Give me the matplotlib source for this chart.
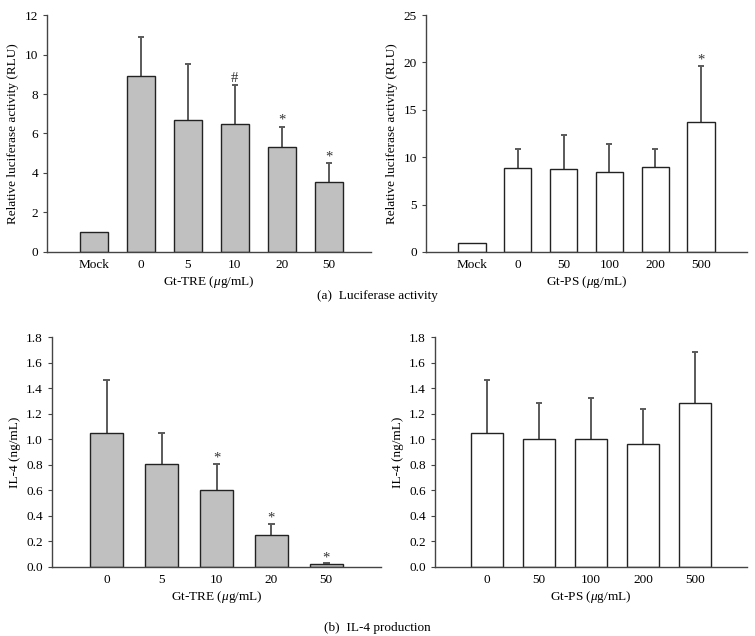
import matplotlib
matplotlib.use("Agg")
import matplotlib.pyplot as plt

plt.rcParams['font.family'] = ['Liberation Serif', 'DejaVu Serif']
plt.rcParams['mathtext.fontset'] = 'custom'
plt.rcParams['mathtext.rm'] = 'Liberation Serif'
plt.rcParams['mathtext.it'] = 'Liberation Serif:italic'

# Data
tre_luc_cats = ["Mock", "0", "5", "10", "20", "50"]
tre_luc_vals = [1.0, 8.9, 6.7, 6.5, 5.3, 3.55]
tre_luc_err = [0.0, 2.0, 2.8, 1.95, 1.05, 0.95]
tre_luc_marks = ["", "", "", "#", "*", "*"]

ps_luc_cats = ["Mock", "0", "50", "100", "200", "500"]
ps_luc_vals = [1.0, 8.9, 8.8, 8.4, 9.0, 13.7]
ps_luc_err = [0.0, 2.0, 3.5, 2.95, 1.9, 5.9]
ps_luc_marks = ["", "", "", "", "", "*"]

tre_il4_cats = ["0", "5", "10", "20", "50"]
tre_il4_vals = [1.05, 0.81, 0.60, 0.25, 0.02]
tre_il4_err = [0.41, 0.24, 0.21, 0.09, 0.01]
tre_il4_marks = ["", "", "*", "*", "*"]

ps_il4_cats = ["0", "50", "100", "200", "500"]
ps_il4_vals = [1.05, 1.00, 1.00, 0.96, 1.28]
ps_il4_err = [0.41, 0.28, 0.32, 0.28, 0.40]
ps_il4_marks = ["", "", "", "", ""]

fig = plt.figure(figsize=(7.55, 6.36), dpi=100)

def panel(rect, cats, vals, errs, marks, color, ylim, yticks, yfmt, ylabel, xlabel, xmax, mark_off):
    ax = fig.add_axes(rect)
    x = list(range(1, len(cats) + 1))
    ax.bar(x, vals, width=0.6, color=color, edgecolor='#222222', linewidth=1.0, zorder=2)
    cap = 0.065
    for xi, v, e in zip(x, vals, errs):
        if e > 0:
            ax.vlines(xi, v, v + e, colors='#5a5a5a', linewidth=1.4, zorder=1)
            ax.hlines(v + e, xi - cap, xi + cap, colors='#5a5a5a', linewidth=1.4, zorder=1)
    for xi, v, e, m in zip(x, vals, errs, marks):
        if m:
            ax.text(xi, v + e + mark_off, m, ha='center', va='bottom', fontsize=10.5, color='#333333')
    ax.set_xlim(0, xmax)
    ax.set_ylim(*ylim)
    ax.set_yticks(yticks)
    ax.set_yticklabels([yfmt.format(t) for t in yticks])
    ax.set_xticks(x)
    ax.set_xticklabels(cats)
    ax.tick_params(axis='x', length=0, labelsize=9.5, pad=5)
    ax.tick_params(axis='y', length=3, direction='out', labelsize=9.5, color='#444444')
    for s in ['top', 'right']:
        ax.spines[s].set_visible(False)
    for s in ['left', 'bottom']:
        ax.spines[s].set_color('#444444')
        ax.spines[s].set_linewidth(1.0)
    ax.set_ylabel(ylabel, fontsize=9.5, labelpad=4)
    ax.set_xlabel(xlabel, fontsize=9.5, labelpad=2)
    return ax

panel([0.0623, 0.6038, 0.429, 0.3726], tre_luc_cats, tre_luc_vals, tre_luc_err, tre_luc_marks,
      '#c0c0c0', (0, 12), [0, 2, 4, 6, 8, 10, 12], '{:g}',
      'Relative luciferase activity (RLU)', r'Gt-TRE ($\mu$g/mL)', 6.9, 0.0)
panel([0.5642, 0.6038, 0.4252, 0.3726], ps_luc_cats, ps_luc_vals, ps_luc_err, ps_luc_marks,
      'white', (0, 25), [0, 5, 10, 15, 20, 25], '{:g}',
      'Relative luciferase activity (RLU)', r'Gt-PS ($\mu$g/mL)', 7.0, 0.0)
panel([0.0689, 0.1085, 0.4358, 0.3616], tre_il4_cats, tre_il4_vals, tre_il4_err, tre_il4_marks,
      '#c0c0c0', (0, 1.8), [0, 0.2, 0.4, 0.6, 0.8, 1.0, 1.2, 1.4, 1.6, 1.8], '{:.1f}',
      'IL-4 (ng/mL)', r'Gt-TRE ($\mu$g/mL)', 6.0, -0.01)
panel([0.5762, 0.1085, 0.4132, 0.3616], ps_il4_cats, ps_il4_vals, ps_il4_err, ps_il4_marks,
      'white', (0, 1.8), [0, 0.2, 0.4, 0.6, 0.8, 1.0, 1.2, 1.4, 1.6, 1.8], '{:.1f}',
      'IL-4 (ng/mL)', r'Gt-PS ($\mu$g/mL)', 6.0, 0.0)

fig.text(0.5, 1 - 296 / 636, '(a)  Luciferase activity', ha='center', va='center', fontsize=9.5)
fig.text(0.5, 1 - 628 / 636, '(b)  IL-4 production', ha='center', va='center', fontsize=9.5)

fig.savefig('out.png', dpi=100)
